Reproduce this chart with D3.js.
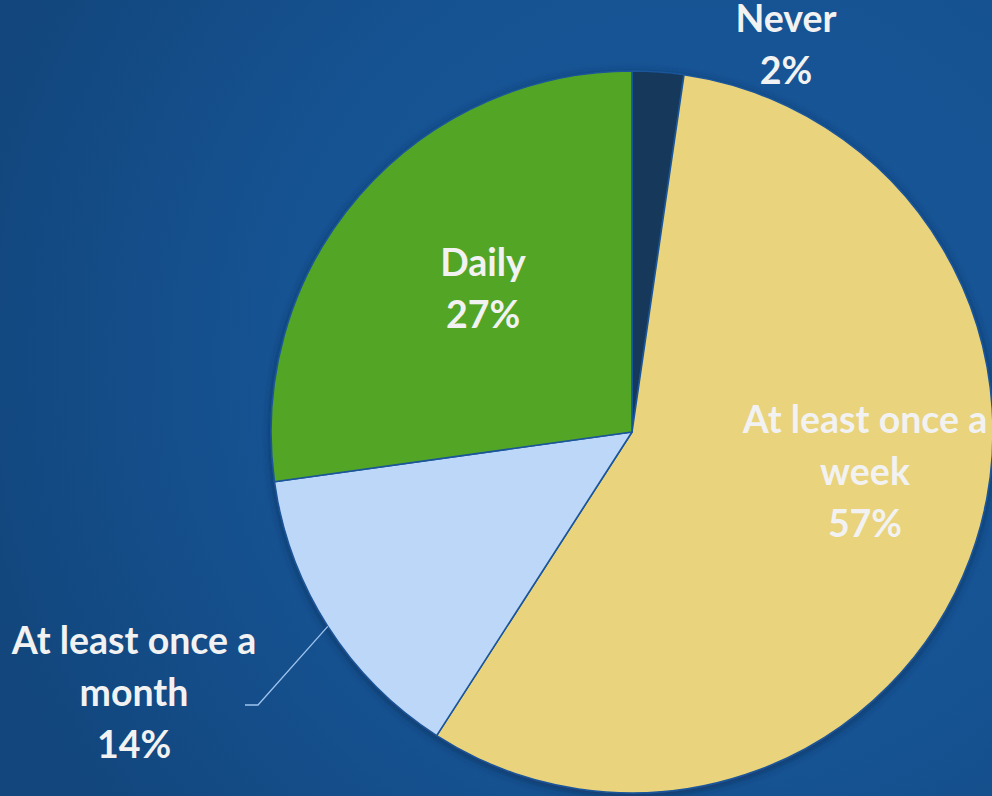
<!DOCTYPE html>
<html>
<head>
<meta charset="utf-8">
<script src="https://cdn.jsdelivr.net/npm/d3@7"></script>
<style>
  html, body { margin: 0; padding: 0; overflow: hidden; }
  body { width: 992px; height: 796px; }
  svg { display: block; }
  text { font-family: Lato, "Open Sans", sans-serif; font-weight: bold; }
</style>
</head>
<body>
<svg id="chart" width="992" height="796"></svg>
<script>
var categories = ['Never', 'At least once a week', 'At least once a month', 'Daily'];
var shares = [2.3, 56.8, 13.7, 27.2];
var percentLabels = ['2%', '57%', '14%', '27%'];
var labelLines = [['Never'], ['At least once a', 'week'], ['At least once a', 'month'], ['Daily']];
var colors = ['#13385a', '#e9d37c', '#bcd7f8', '#52a527'];

var W = 992, H = 796;
var cx = 632, cy = 432, R = 361;
var lineH = 52, fontSize = 37.5;

// where each label block sits (center of block), relative to pie center
var labelLayout = {
  'Never': { dx: 154, dy: -388 },
  'At least once a week': { dx: 233, dy: 39 },
  'At least once a month': { dx: -498, dy: 260, leader: true },
  'Daily': { dx: -149, dy: -144 }
};

var svg = d3.select('#chart');
var defs = svg.append('defs');

var bg = defs.append('radialGradient').attr('id', 'bg')
  .attr('gradientUnits', 'userSpaceOnUse')
  .attr('cx', 700).attr('cy', 360).attr('r', 760);
bg.append('stop').attr('offset', '0%').attr('stop-color', '#17579b');
bg.append('stop').attr('offset', '55%').attr('stop-color', '#165393');
bg.append('stop').attr('offset', '100%').attr('stop-color', '#12467c');

var shadow = defs.append('filter').attr('id', 'shadow')
  .attr('x', '-10%').attr('y', '-10%').attr('width', '120%').attr('height', '120%');
shadow.append('feDropShadow').attr('dx', 0).attr('dy', 2).attr('stdDeviation', 4)
  .attr('flood-color', '#0a2a50').attr('flood-opacity', 0.7);

svg.append('rect').attr('width', W).attr('height', H).attr('fill', 'url(#bg)');

var data = categories.map(function(c, i) {
  return { name: c, value: shares[i], pct: percentLabels[i], lines: labelLines[i], color: colors[i] };
});

var pie = d3.pie().sort(null).value(function(d) { return d.value; });
var arc = d3.arc().innerRadius(0).outerRadius(R);
var arcs = pie(data);

var g = svg.append('g').attr('transform', 'translate(' + cx + ',' + cy + ')');

g.append('g').attr('filter', 'url(#shadow)')
  .selectAll('path')
  .data(arcs)
  .enter().append('path')
  .attr('d', arc)
  .attr('fill', function(d) { return d.data.color; })
  .attr('stroke', '#1a5599')
  .attr('stroke-width', 1.6)
  .attr('stroke-linejoin', 'round');

// leader lines for outside labels
arcs.forEach(function(d) {
  var lay = labelLayout[d.data.name];
  if (!lay.leader) return;
  var mid = (d.startAngle + d.endAngle) / 2;
  var p0 = [Math.sin(mid) * R, -Math.cos(mid) * R];
  var elbow = [-374, 273];
  g.append('polyline')
    .attr('points', [p0, elbow, [elbow[0] - 13, elbow[1]]].map(function(p) { return p.join(','); }).join(' '))
    .attr('fill', 'none')
    .attr('stroke', '#9ec3ee')
    .attr('stroke-width', 1.3);
});

var labels = g.selectAll('text.lbl')
  .data(arcs)
  .enter().append('text')
  .attr('class', 'lbl')
  .attr('text-anchor', 'middle')
  .attr('font-size', fontSize)
  .attr('fill', '#f2f2f2');

labels.each(function(d) {
  var lay = labelLayout[d.data.name];
  var lines = d.data.lines.concat([d.data.pct]);
  var top = lay.dy - (lines.length - 1) * lineH / 2;
  var t = d3.select(this);
  lines.forEach(function(s, i) {
    t.append('tspan')
      .attr('x', lay.dx)
      .attr('y', top + i * lineH)
      .attr('dy', '0.36em')
      .text(s);
  });
});
</script>
</body>
</html>
